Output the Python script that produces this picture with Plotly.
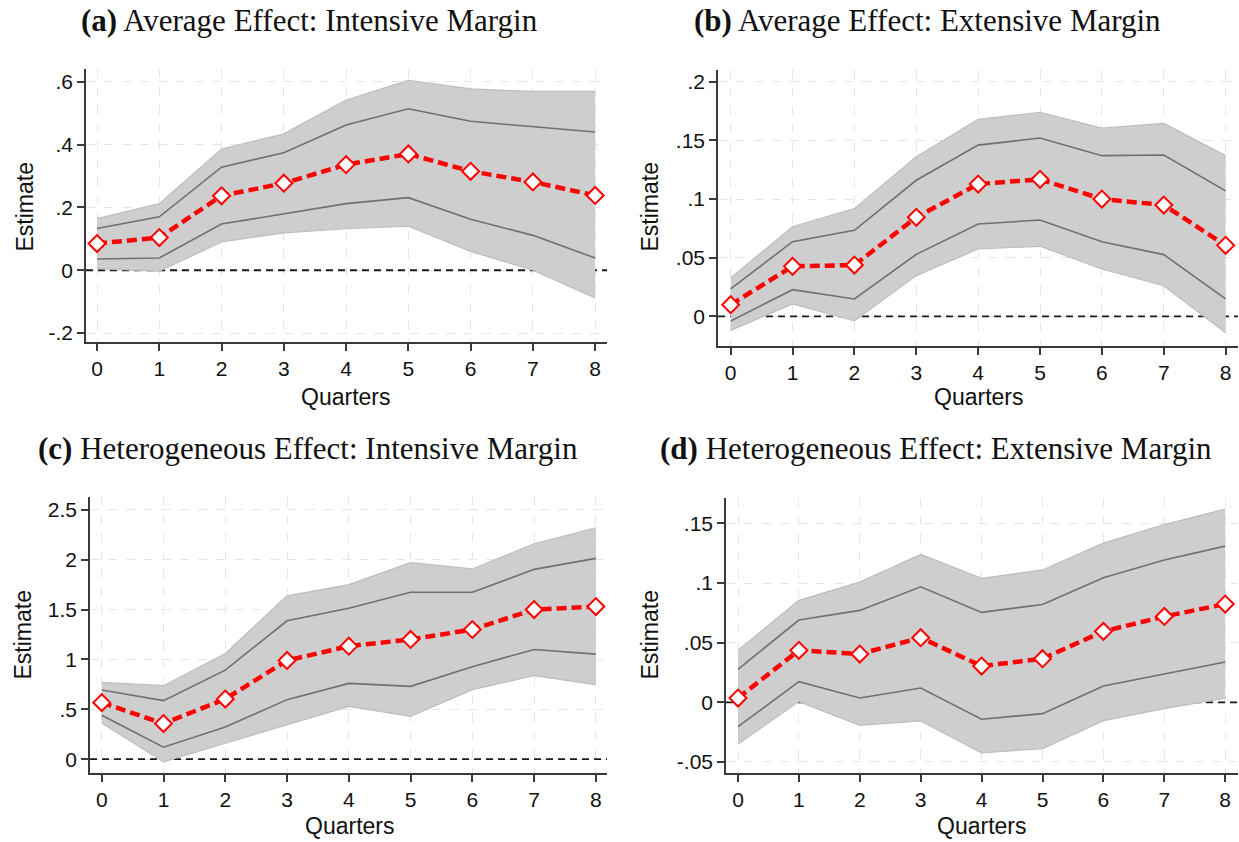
import plotly.graph_objects as go

quarters = [0, 1, 2, 3, 4, 5, 6, 7, 8]

# (a) Average Effect: Intensive Margin
a_est = [0.085, 0.104, 0.237, 0.277, 0.336, 0.370, 0.315, 0.281, 0.238]
a_hi90 = [0.133, 0.170, 0.328, 0.374, 0.462, 0.514, 0.474, 0.457, 0.440]
a_lo90 = [0.036, 0.039, 0.147, 0.180, 0.212, 0.231, 0.162, 0.111, 0.039]
a_hi95 = [0.164, 0.212, 0.386, 0.434, 0.542, 0.604, 0.577, 0.569, 0.569]
a_lo95 = [0.005, -0.003, 0.090, 0.119, 0.132, 0.140, 0.060, 0.000, -0.088]

# (b) Average Effect: Extensive Margin
b_est = [0.0099, 0.0426, 0.0437, 0.0844, 0.1128, 0.1168, 0.1000, 0.0949, 0.0605]
b_hi90 = [0.0233, 0.0636, 0.0733, 0.1160, 0.1460, 0.1520, 0.1370, 0.1375, 0.1070]
b_lo90 = [-0.0040, 0.0227, 0.0148, 0.0528, 0.0787, 0.0821, 0.0636, 0.0526, 0.0148]
b_hi95 = [0.0327, 0.0764, 0.0918, 0.1360, 0.1680, 0.1740, 0.1605, 0.1645, 0.1370]
b_lo95 = [-0.0120, 0.0105, -0.0040, 0.0347, 0.0574, 0.0597, 0.0403, 0.0260, -0.0140]

# (c) Heterogeneous Effect: Intensive Margin
c_est = [0.567, 0.357, 0.603, 0.990, 1.133, 1.200, 1.300, 1.500, 1.530]
c_hi90 = [0.693, 0.587, 0.893, 1.387, 1.513, 1.673, 1.673, 1.903, 2.013]
c_lo90 = [0.440, 0.120, 0.323, 0.597, 0.760, 0.730, 0.927, 1.100, 1.053]
c_hi95 = [0.770, 0.737, 1.060, 1.637, 1.750, 1.970, 1.907, 2.160, 2.320]
c_lo95 = [0.363, -0.027, 0.160, 0.347, 0.530, 0.430, 0.697, 0.837, 0.747]

# (d) Heterogeneous Effect: Extensive Margin
d_est = [0.0036, 0.0436, 0.0405, 0.0542, 0.0304, 0.0366, 0.0595, 0.0720, 0.0824]
d_hi90 = [0.0277, 0.0690, 0.0771, 0.0969, 0.0754, 0.0821, 0.1045, 0.1193, 0.1310]
d_lo90 = [-0.0204, 0.0173, 0.0036, 0.0120, -0.0142, -0.0095, 0.0137, 0.0240, 0.0338]
d_hi95 = [0.0436, 0.0855, 0.1008, 0.1240, 0.1040, 0.1110, 0.1335, 0.1490, 0.1620]
d_lo95 = [-0.0350, 0.0006, -0.0193, -0.0156, -0.0425, -0.0388, -0.0154, -0.0053, 0.0036]

titles = ["<b>(a)</b> Average Effect: Intensive Margin",
          "<b>(b)</b> Average Effect: Extensive Margin",
          "<b>(c)</b> Heterogeneous Effect: Intensive Margin",
          "<b>(d)</b> Heterogeneous Effect: Extensive Margin"]

a_ticks = [-0.2, 0, 0.2, 0.4, 0.6]
a_ticklabels = ["-.2", "0", ".2", ".4", ".6"]
b_ticks = [0, 0.05, 0.1, 0.15, 0.2]
b_ticklabels = ["0", ".05", ".1", ".15", ".2"]
c_ticks = [0, 0.5, 1, 1.5, 2, 2.5]
c_ticklabels = ["0", ".5", "1", "1.5", "2", "2.5"]
d_ticks = [-0.05, 0, 0.05, 0.1, 0.15]
d_ticklabels = ["-.05", "0", ".05", ".1", ".15"]

W, H = 1239, 842

panels = [
    dict(est=a_est, hi90=a_hi90, lo90=a_lo90, hi95=a_hi95, lo95=a_lo95,
         ticks=a_ticks, labels=a_ticklabels,
         px=(86, 607), py=(69, 343), xr=[-0.177, 8.19], yr=[-0.229, 0.641],
         title_xy=(309, 21), ylab_xy=(25, 208), xlab_xy=(346, 398)),
    dict(est=b_est, hi90=b_hi90, lo90=b_lo90, hi95=b_hi95, lo95=b_lo95,
         ticks=b_ticks, labels=b_ticklabels,
         px=(718, 1238), py=(70, 347), xr=[-0.205, 8.2], yr=[-0.0255, 0.2102],
         title_xy=(927, 21), ylab_xy=(650, 208), xlab_xy=(978, 398)),
    dict(est=c_est, hi90=c_hi90, lo90=c_lo90, hi95=c_hi95, lo95=c_lo95,
         ticks=c_ticks, labels=c_ticklabels,
         px=(90, 607), py=(498, 775), xr=[-0.19, 8.18], yr=[-0.14, 2.63],
         title_xy=(308, 450), ylab_xy=(23, 637), xlab_xy=(349, 828)),
    dict(est=d_est, hi90=d_hi90, lo90=d_lo90, hi95=d_hi95, lo95=d_lo95,
         ticks=d_ticks, labels=d_ticklabels,
         px=(726, 1238), py=(499, 775), xr=[-0.197, 8.21], yr=[-0.0594, 0.1715],
         title_xy=(936, 450), ylab_xy=(650, 637), xlab_xy=(981, 828)),
]

fig = go.Figure()
layout = dict(width=W, height=H, margin=dict(l=0, r=0, t=0, b=0),
              paper_bgcolor="white", plot_bgcolor="white", showlegend=False)
annotations = []

AX_COLOR = "#3a3a3a"
GRID = "#e6e6e6"
TICK_FONT = dict(family="Liberation Sans, Arial, sans-serif", size=21, color="#111111")
LAB_FONT = dict(family="Liberation Sans, Arial, sans-serif", size=23, color="#111111")
TITLE_FONT = dict(family="Liberation Serif, DejaVu Serif, serif", size=31, color="#111111")

for i, p in enumerate(panels):
    n = "" if i == 0 else str(i + 1)
    xa, ya = "x" + n, "y" + n
    # zero reference line spanning the axis range, drawn beneath the band
    fig.add_trace(go.Scatter(x=p["xr"], y=[0, 0], xaxis=xa, yaxis=ya, mode="lines",
                             line=dict(color="#1a1a1a", width=1.8, dash="7px,5px"),
                             hoverinfo="skip", cliponaxis=False))
    # 95% band
    fig.add_trace(go.Scatter(x=quarters, y=p["lo95"], xaxis=xa, yaxis=ya, mode="lines",
                             line=dict(color="#bdbdbd", width=1.2), hoverinfo="skip"))
    fig.add_trace(go.Scatter(x=quarters, y=p["hi95"], xaxis=xa, yaxis=ya, mode="lines",
                             line=dict(color="#bdbdbd", width=1.2), fill="tonexty",
                             fillcolor="#cecece", hoverinfo="skip"))
    # 90% lines
    for key in ("hi90", "lo90"):
        fig.add_trace(go.Scatter(x=quarters, y=p[key], xaxis=xa, yaxis=ya, mode="lines",
                                 line=dict(color="#707070", width=1.6)))
    # point estimates
    fig.add_trace(go.Scatter(x=quarters, y=p["est"], xaxis=xa, yaxis=ya, mode="lines+markers",
                             line=dict(color="#ff0000", width=4.5, dash="10px,5px"),
                             marker=dict(symbol="diamond", size=13, color="white",
                                         line=dict(color="#ff0000", width=2))))

    dom_x = [p["px"][0] / W, p["px"][1] / W]
    dom_y = [1 - p["py"][1] / H, 1 - p["py"][0] / H]
    layout["xaxis" + n] = dict(domain=dom_x, range=p["xr"], anchor=ya,
                               tickmode="array", tickvals=quarters,
                               ticktext=[str(q) for q in quarters],
                               showline=True, linecolor=AX_COLOR, linewidth=1.5,
                               ticks="outside", ticklen=7, tickwidth=1.5, tickcolor=AX_COLOR,
                               showgrid=True, gridcolor=GRID, griddash="dash", gridwidth=1.2,
                               zeroline=False, tickfont=TICK_FONT, fixedrange=True)
    layout["yaxis" + n] = dict(domain=dom_y, range=p["yr"], anchor=xa,
                               tickmode="array", tickvals=p["ticks"], ticktext=p["labels"],
                               showline=True, linecolor=AX_COLOR, linewidth=1.5,
                               ticks="outside", ticklen=7, tickwidth=1.5, tickcolor=AX_COLOR,
                               showgrid=True, gridcolor=GRID, griddash="dash", gridwidth=1.2,
                               zeroline=False, tickfont=TICK_FONT, fixedrange=True)

    annotations.append(dict(text=titles[i], x=p["title_xy"][0] / W, y=1 - p["title_xy"][1] / H,
                            xref="paper", yref="paper", showarrow=False,
                            xanchor="center", yanchor="middle", font=TITLE_FONT))
    annotations.append(dict(text="Estimate", x=p["ylab_xy"][0] / W, y=1 - p["ylab_xy"][1] / H,
                            xref="paper", yref="paper", showarrow=False, textangle=-90,
                            xanchor="center", yanchor="middle", font=LAB_FONT))
    annotations.append(dict(text="Quarters", x=p["xlab_xy"][0] / W, y=1 - p["xlab_xy"][1] / H,
                            xref="paper", yref="paper", showarrow=False,
                            xanchor="center", yanchor="middle", font=LAB_FONT))

layout["annotations"] = annotations
fig.update_layout(**layout)
fig.write_html("out.html")
